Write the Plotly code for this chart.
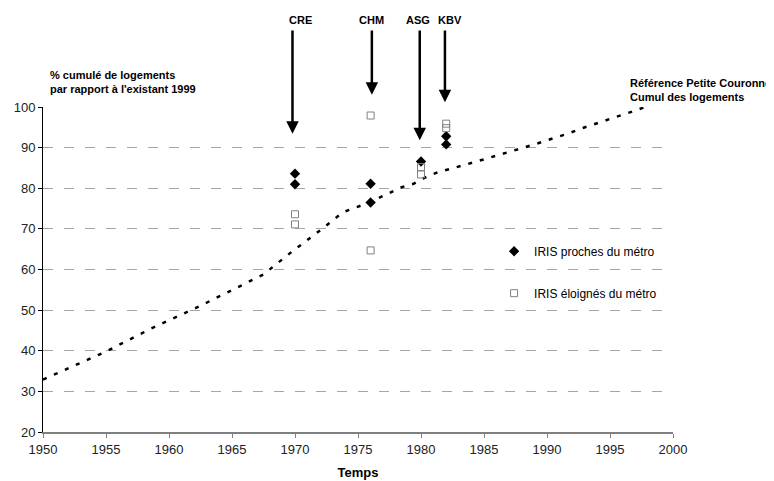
import plotly.graph_objects as go

# courbe de référence Petite Couronne (cumul des logements)
ref_annee = [1950, 1955, 1958.6, 1962.1, 1964.8, 1967.5, 1969.8, 1972.2, 1973.8, 1974.9,
             1975.9, 1977.4, 1978.4, 1979.4, 1980.3, 1981.2, 1982.2, 1983.2, 1984.1,
             1985.2, 1986.1, 1987.0, 1988.0, 1988.9, 1989.8, 1990.9, 1991.8, 1992.7,
             1993.7, 1994.7, 1995.6, 1996.7, 1997.7]
ref_valeur = [32.9, 39.8, 45.5, 50.5, 54.6, 58.8, 64.5, 70.1, 74.1, 75.4,
              76.5, 78.7, 80.2, 81.1, 82.6, 83.8, 84.6, 85.5, 86.3,
              87.3, 88.1, 88.9, 89.9, 90.7, 91.6, 92.6, 93.6, 94.7,
              95.7, 96.7, 97.7, 98.8, 99.9]

# IRIS proches du métro
proches_annee = [1970, 1970, 1976, 1976, 1980, 1982, 1982]
proches_valeur = [83.6, 81.0, 81.1, 76.5, 86.6, 92.8, 90.8]

# IRIS éloignés du métro
eloignes_annee = [1970, 1970, 1976, 1976, 1980, 1980, 1982, 1982]
eloignes_valeur = [73.6, 71.1, 97.9, 64.7, 85.2, 83.4, 95.9, 94.8]

# lignes de métro (flèches) : pointe en % (échelle de l'axe y)
lignes = ["CRE", "CHM", "ASG", "KBV"]
lignes_annee = [1969.8, 1976.1, 1979.9, 1981.9]
lignes_label_annee = [1970.4, 1976.1, 1979.8, 1982.3]
lignes_pointe = [93.4, 103.0, 91.8, 101.2]
queue = 119.2

Y0, Y1 = 20, 100
hauteur_zone = 325  # hauteur de la zone de tracé en px
px_par_unite = hauteur_zone / (Y1 - Y0)

fig = go.Figure()

fig.add_trace(go.Scatter(x=ref_annee, y=ref_valeur, mode="lines",
                         line=dict(color="black", width=2.5, dash="4px,8px"),
                         showlegend=False, hoverinfo="skip"))

fig.add_trace(go.Scatter(x=proches_annee, y=proches_valeur, mode="markers",
                         name="IRIS proches du métro", legendgroup="a",
                         marker=dict(symbol="diamond", size=8, color="black")))

fig.add_trace(go.Scatter(x=eloignes_annee, y=eloignes_valeur, mode="markers",
                         name="IRIS éloignés du métro", legendgroup="b",
                         marker=dict(symbol="square-open", size=7, color="#808080",
                                     line=dict(width=1))))

for nom, xa, xl, yp in zip(lignes, lignes_annee, lignes_label_annee, lignes_pointe):
    fig.add_annotation(x=xa, y=(yp - Y0) / (Y1 - Y0), xref="x", yref="paper",
                       ax=0, ay=-(queue - yp) * px_par_unite, axref="pixel", ayref="pixel",
                       text="", showarrow=True,
                       arrowhead=2, arrowsize=1, arrowwidth=2.5, arrowcolor="black")
    fig.add_annotation(x=xl, y=1.293, xref="x", yref="paper",
                       text="<b>" + nom + "</b>", showarrow=False,
                       font=dict(size=11, color="black"))

fig.add_annotation(x=0.008, y=1.076, xref="paper", yref="paper", xanchor="left", yanchor="middle",
                   text="<b>% cumulé de logements<br>par rapport à l'existant 1999</b>",
                   showarrow=False, align="left", font=dict(size=11, color="black"))
fig.add_annotation(x=0.9286, y=1.053, xref="paper", yref="paper", xanchor="left", yanchor="middle",
                   text="<b>Référence Petite Couronne<br>Cumul des logements</b>",
                   showarrow=False, align="left", font=dict(size=11, color="black"))

fig.update_xaxes(range=[1950, 2000], dtick=5, showgrid=False, zeroline=False,
                 showline=True, linecolor="#808080", linewidth=2,
                 ticks="outside", ticklen=4, tickcolor="#808080",
                 tickfont=dict(size=13, color="#222222"), automargin=False,
                 title=dict(text="<b>Temps</b>", font=dict(size=13, color="black"), standoff=12))
fig.update_yaxes(range=[Y0, Y1], dtick=10, zeroline=False,
                 showline=True, linecolor="black", linewidth=1,
                 ticks="outside", ticklen=4, tickcolor="black",
                 tickfont=dict(size=13, color="#222222"), automargin=False,
                 showgrid=True, gridcolor="#a6a6a6", gridwidth=1, griddash="10px,11px")

fig.update_layout(
    width=774, height=481,
    margin=dict(l=35, r=109, t=99, b=57),
    paper_bgcolor="white", plot_bgcolor="white",
    font=dict(family="Liberation Sans, Arial, sans-serif", color="black"),
    legend=dict(x=0.716, y=0.601, xanchor="left", yanchor="top",
                bgcolor="rgba(0,0,0,0)", font=dict(size=12),
                traceorder="grouped", tracegroupgap=23),
)

fig.write_html("out.html")
